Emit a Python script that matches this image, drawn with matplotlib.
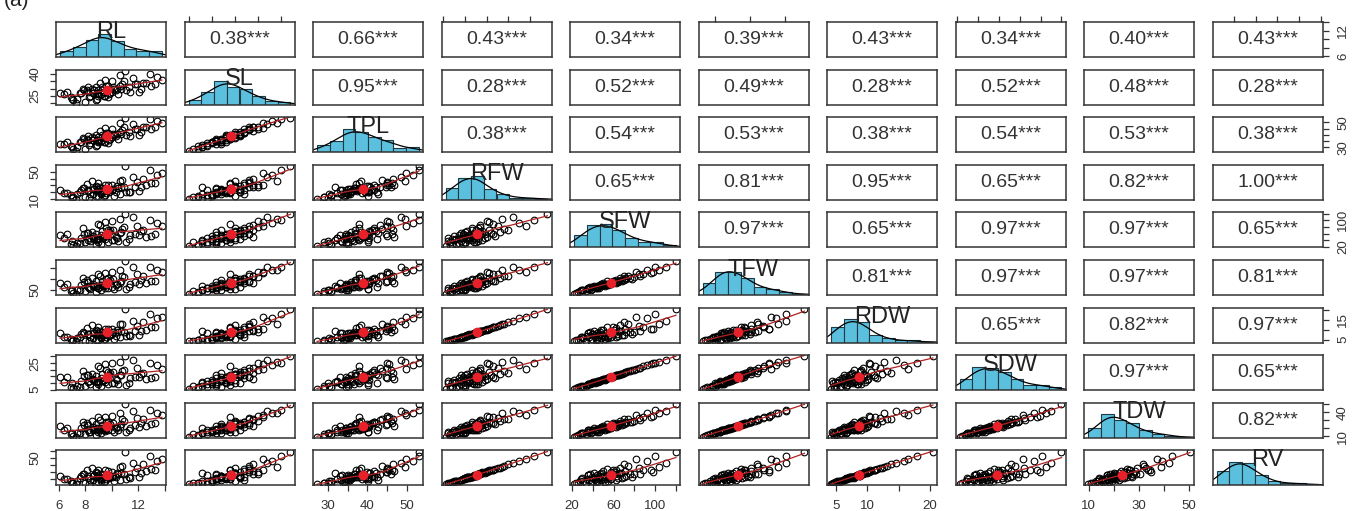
import numpy as np
import matplotlib
matplotlib.use("Agg")
import matplotlib.pyplot as plt

plt.rcParams['font.family'] = ['Liberation Sans', 'DejaVu Sans']

names = ['RL', 'SL', 'TPL', 'RFW', 'SFW', 'TFW', 'RDW', 'SDW', 'TDW', 'RV']

# measured traits (estimated from the scatter clouds)
rl = [7.0, 10.6, 8.2, 9.4, 11.8, 9.0, 7.6, 10.1, 8.8, 12.6,
      6.4, 9.7, 10.9, 8.5, 9.2, 11.3, 7.9, 13.4, 8.0, 9.9,
      10.4, 6.9, 9.5, 12.1, 10.8, 7.3, 8.7, 9.8, 13.0, 9.1,
      8.4, 11.6, 7.7, 10.2, 9.3, 8.9, 12.9, 6.6, 10.5, 9.6,
      8.1, 9.0, 11.1, 10.0, 8.6, 7.4, 12.4, 9.4, 10.7, 8.3,
      6.1, 11.9, 9.2, 8.8, 10.3, 9.5, 7.8, 13.8, 10.0, 8.6,
      9.7, 11.4, 9.0, 10.6, 7.1, 12.2, 8.9, 11.0, 9.6, 8.2,
      13.3, 9.3]
sl = [23, 32, 28, 25, 33, 29, 27, 31, 22, 34,
      26, 24, 35, 30, 26, 31, 29, 38, 21, 27,
      30, 24, 36, 28, 33, 20, 29, 26, 32, 34,
      25, 37, 27, 30, 31, 23, 40, 28, 26, 32,
      29, 25, 29, 35, 27, 23, 34, 28, 30, 24,
      27, 33, 26, 31, 29, 25, 30, 36, 28, 27,
      32, 28, 26, 39, 22, 30, 27, 42, 29, 31,
      33, 29]
rfw = [12, 18, 22, 15, 28, 33, 20, 25, 14, 30,
       19, 24, 27, 36, 17, 21, 26, 45, 13, 23,
       29, 16, 31, 22, 38, 11, 25, 20, 34, 27,
       18, 42, 24, 15, 21, 28, 52, 19, 26, 23,
       32, 14, 20, 30, 25, 17, 40, 22, 27, 12,
       24, 35, 19, 29, 21, 16, 26, 48, 23, 18,
       31, 20, 25, 37, 13, 28, 22, 58, 19, 24,
       33, 26]
sfw = [38, 62, 40, 52, 58, 88, 30, 72, 26, 50,
       45, 35, 80, 66, 55, 42, 60, 92, 33, 70,
       48, 28, 96, 56, 74, 22, 44, 64, 54, 85,
       36, 110, 47, 39, 68, 41, 100, 58, 37, 78,
       62, 44, 34, 98, 53, 31, 70, 49, 65, 46,
       57, 84, 29, 60, 51, 43, 76, 82, 39, 48,
       71, 55, 35, 104, 24, 67, 45, 120, 52, 63,
       59, 47]
rdw = [4.5, 6.2, 7.8, 5.4, 9.5, 11.2, 6.6, 8.9, 5.0, 10.1,
       6.4, 8.3, 9.0, 12.4, 5.9, 7.3, 8.6, 15.8, 4.6, 7.6,
       10.0, 5.6, 10.5, 7.2, 13.1, 4.2, 8.4, 7.0, 11.5, 9.3,
       6.3, 14.6, 8.0, 5.2, 7.4, 9.6, 17.9, 6.5, 9.0, 7.9,
       11.0, 4.9, 6.8, 10.2, 8.6, 5.8, 13.8, 7.5, 9.4, 4.4,
       8.2, 12.0, 6.6, 9.9, 7.1, 5.5, 8.8, 16.5, 7.7, 6.1,
       10.6, 6.9, 8.5, 12.7, 4.7, 9.5, 7.6, 20.5, 6.4, 8.1,
       11.3, 8.9]
sdw = [9.8, 15.9, 10.6, 12.6, 14.8, 22.5, 7.4, 18.2, 6.9, 12.9,
       11.0, 9.2, 19.8, 17.1, 13.6, 10.4, 15.3, 23.4, 8.1, 17.6,
       12.3, 7.2, 24.1, 14.2, 18.9, 5.6, 11.3, 15.8, 13.9, 21.2,
       9.0, 27.6, 11.9, 10.1, 16.9, 10.5, 25.4, 14.6, 9.5, 19.5,
       15.7, 11.0, 8.7, 24.8, 13.4, 8.0, 17.9, 12.4, 16.4, 11.6,
       14.4, 21.0, 7.5, 15.2, 12.9, 11.0, 19.0, 20.7, 9.9, 12.1,
       18.0, 13.8, 9.0, 26.2, 6.3, 16.8, 11.5, 30.0, 13.1, 15.9,
       14.9, 11.8]
rv = [13, 18, 21, 15, 29, 33, 21, 24, 14, 31,
      19, 25, 27, 35, 17, 22, 26, 46, 13, 23,
      28, 16, 32, 22, 38, 12, 25, 21, 34, 26,
      18, 43, 24, 16, 21, 28, 53, 19, 27, 23,
      32, 15, 20, 30, 24, 17, 41, 22, 28, 12,
      24, 36, 19, 29, 22, 16, 26, 49, 23, 18,
      31, 21, 25, 37, 14, 28, 22, 59, 19, 24,
      33, 26]

# totals are sums of the parts
tpl = np.add(rl, sl)
tfw = np.add(rfw, sfw)
tdw = np.add(rdw, sdw)

data = [np.array(v, dtype=float) for v in
        (rl, sl, tpl, rfw, sfw, tfw, rdw, sdw, tdw, rv)]

# correlation labels shown in the upper panels, row by row
corr_labels = [
    ['0.38', '0.66', '0.43', '0.34', '0.39', '0.43', '0.34', '0.40', '0.43'],
    ['0.95', '0.28', '0.52', '0.49', '0.28', '0.52', '0.48', '0.28'],
    ['0.38', '0.54', '0.53', '0.38', '0.54', '0.53', '0.38'],
    ['0.65', '0.81', '0.95', '0.65', '0.82', '1.00'],
    ['0.97', '0.65', '0.97', '0.97', '0.65'],
    ['0.81', '0.97', '0.97', '0.81'],
    ['0.65', '0.82', '0.97'],
    ['0.97', '0.65'],
    ['0.82'],
]

# axis ticks: positions, labels along x, labels along y
ticks = {
    'RL': ([6, 8, 10, 12, 14], ['6', '8', '', '12', ''], ['6', '', '', '12', '']),
    'SL': ([20, 25, 30, 35, 40], [], ['', '25', '', '', '40']),
    'TPL': ([30, 35, 40, 45, 50], ['30', '', '40', '', '50'], ['30', '', '', '', '50']),
    'RFW': ([10, 20, 30, 40, 50, 60], [], ['10', '', '', '', '50', '']),
    'SFW': ([20, 40, 60, 80, 100, 120], ['20', '', '60', '', '100', ''], ['20', '', '', '', '100', '']),
    'TFW': ([50, 100, 150], [], ['50', '', '']),
    'RDW': ([5, 10, 15, 20], ['5', '10', '', '20'], ['5', '', '15', '']),
    'SDW': ([5, 10, 15, 20, 25, 30], [], ['5', '', '', '', '25', '']),
    'TDW': ([10, 20, 30, 40, 50], ['10', '', '30', '', '50'], ['10', '', '', '40', '']),
    'RV': ([10, 20, 30, 40, 50, 60], [], ['10', '', '', '', '50', '']),
}


def lim(v):
    lo, hi = v.min(), v.max()
    pad = 0.04 * (hi - lo)
    return lo - pad, hi + pad


def lowess(x, y, frac=2 / 3., npts=40):
    xs = np.linspace(x.min(), x.max(), npts)
    k = int(np.ceil(frac * len(x)))
    out = []
    for x0 in xs:
        d = np.abs(x - x0)
        h = np.sort(d)[k - 1]
        w = np.clip(1 - (d / h) ** 3, 0, 1) ** 3
        W = w.sum()
        mx = (w * x).sum() / W
        my = (w * y).sum() / W
        sxx = (w * (x - mx) ** 2).sum()
        b = (w * (x - mx) * (y - my)).sum() / sxx if sxx > 0 else 0
        out.append(my + b * (x0 - mx))
    return xs, np.array(out)


def kde(v, grid):
    bw = 1.06 * v.std() * len(v) ** (-0.2)
    z = (grid[:, None] - v[None, :]) / bw
    return np.exp(-0.5 * z ** 2).sum(axis=1) / (len(v) * bw * np.sqrt(2 * np.pi))


W, H = 1361., 511.
fig = plt.figure(figsize=(W / 100, H / 100), dpi=100)
n = len(names)
edge = '#333333'

for r in range(n):
    for c in range(n):
        left = (56 + 128.5 * c) / W
        top = 22 + 47.6 * r
        ax = fig.add_axes([left, 1 - (top + 35) / H, 110 / W, 35 / H])
        for s in ax.spines.values():
            s.set_color(edge)
            s.set_linewidth(1.1)
        x, y = data[c], data[r]
        if r == c:
            v = data[r]
            dens, bins = np.histogram(v, bins=8, density=True)
            grid = np.linspace(*lim(v), 200)
            dk = kde(v, grid)
            top_y = max(dens.max(), dk.max()) * 1.5
            ax.bar(bins[:-1], dens, width=np.diff(bins), align='edge',
                   color='#5bc0de', edgecolor='#1f3a44', linewidth=0.8)
            ax.plot(grid, dk, color='black', lw=0.9)
            ax.text(0.5, 1.04, names[r], transform=ax.transAxes, ha='center',
                    va='top', fontsize=17, color='#222222')
        elif r > c:
            ax.plot(x, y, 'o', mfc='none', mec='black', ms=4.8, mew=0.8)
            sx, sy = lowess(x, y)
            ax.plot(sx, sy, color='#b22222', lw=0.9)
            ax.plot(x.mean(), y.mean(), 'o', color='#e8202a', ms=7, mec='none')
        else:
            ax.text(0.5, 0.5, corr_labels[r][c - r - 1] + '***', transform=ax.transAxes,
                    ha='center', va='center', fontsize=14, color='#333333')

        ax.tick_params(length=4.5, width=0.9, color=edge, labelsize=9.5,
                       labelcolor='#333333', pad=2,
                       bottom=False, top=False, left=False, right=False,
                       labelbottom=False, labeltop=False, labelleft=False, labelright=False)
        ax.set_xticks([])
        ax.set_yticks([])
        if r == n - 1 and c % 2 == 0:
            t, lx, _ = ticks[names[c]]
            ax.set_xticks(t)
            ax.set_xticklabels(lx)
            ax.tick_params(bottom=True, labelbottom=True, pad=6)
        if r == 0 and c % 2 == 1:
            t = ticks[names[c]][0]
            ax.set_xticks(t)
            ax.tick_params(top=True)
        if c == 0 and r % 2 == 1:
            t, _, ly = ticks[names[r]]
            ax.set_yticks(t)
            ax.set_yticklabels(ly, rotation=90, va='center')
            ax.tick_params(left=True, labelleft=True, pad=6)
        if c == n - 1 and r % 2 == 0:
            t, _, ly = ticks[names[r]]
            ax.set_yticks(t)
            ax.set_yticklabels(ly, rotation=90, va='center')
            ax.tick_params(right=True, labelright=True, pad=6)
        ax.set_xlim(*lim(x))
        if r == c:
            ax.set_ylim(0, top_y)
        else:
            ax.set_ylim(*lim(y))

fig.text(0.003, 1.0, '(a)', ha='left', va='center', fontsize=15, color='#222222')

fig.savefig('out.png', dpi=100)
